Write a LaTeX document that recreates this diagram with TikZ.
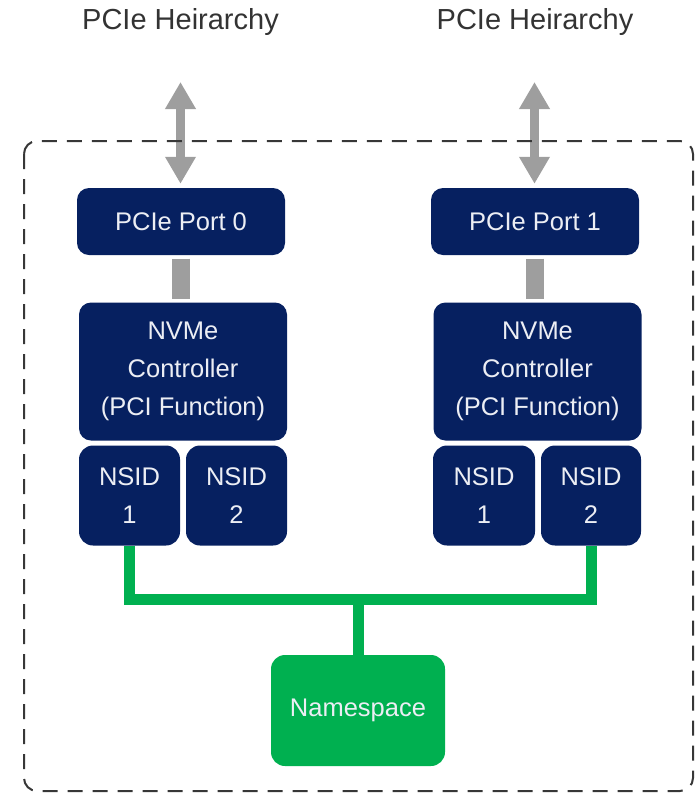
\documentclass[tikz,border=0pt]{standalone}
\usepackage{fontspec}
\setmainfont{Liberation Sans}
\usetikzlibrary{arrows.meta}
\definecolor{navy}{RGB}{6,32,96}
\definecolor{nsgreen}{RGB}{0,176,80}
\definecolor{linkgray}{RGB}{158,158,158}
\definecolor{framegray}{RGB}{55,55,55}
\definecolor{boxtext}{RGB}{236,238,244}
\begin{document}
\begin{tikzpicture}[x=1pt,y=-1pt,
  hosttitle/.style={text=black!80, font=\fontsize{29}{34}\selectfont},
  bluebox/.style={draw=none, fill=navy, rounded corners=12pt, inner sep=0pt,
    text=boxtext, align=center, font=\fontsize{25.5}{38}\selectfont},
  nsbox/.style={draw=none, fill=nsgreen, rounded corners=14pt, inner sep=0pt,
    text=boxtext, align=center, font=\fontsize{25.5}{38}\selectfont},
  pcielink/.style={draw=linkgray, line width=9pt,
    {Triangle[width=29pt,length=27pt]}-{Triangle[width=29pt,length=27pt]}},
  portbar/.style={draw=linkgray, line width=18pt, shorten <=3.5pt, shorten >=3.5pt},
  nsline/.style={draw=nsgreen, line width=11pt, line join=miter},
  subsystem/.style={draw=framegray, line width=2pt, dash pattern=on 15pt off 10pt,
    rounded corners=13pt}
]
\useasboundingbox (0,0) rectangle (694,793);

% host-side titles
\node[hosttitle] (t0) at (180.5,22) {PCIe Heirarchy};
\node[hosttitle] (t1) at (535,22) {PCIe Heirarchy};

% ports
\node[bluebox, minimum width=208pt, minimum height=67pt] (port0) at (181,221.5) {PCIe Port 0};
\node[bluebox, minimum width=208pt, minimum height=67pt] (port1) at (535,221.5) {PCIe Port 1};

% controllers
\node[bluebox, minimum width=208pt, minimum height=138pt] (ctrl0) at (183,371.5)
  {NVMe\\Controller\\(PCI Function)};
\node[bluebox, minimum width=208pt, minimum height=138pt] (ctrl1) at (537.5,371.5)
  {NVMe\\Controller\\(PCI Function)};

% namespace IDs
\node[bluebox, rounded corners=14pt, minimum width=101pt, minimum height=100pt] (n01) at (129.5,495.5) {NSID\\1};
\node[bluebox, rounded corners=14pt, minimum width=101pt, minimum height=100pt] (n02) at (236.5,495.5) {NSID\\2};
\node[bluebox, rounded corners=14pt, minimum width=102pt, minimum height=100pt] (n11) at (484,495.5) {NSID\\1};
\node[bluebox, rounded corners=14pt, minimum width=100pt, minimum height=100pt] (n12) at (591,495.5) {NSID\\2};

% shared namespace
\node[nsbox, minimum width=174pt, minimum height=111pt] (ns) at (358,710.5) {Namespace};

% links up to the PCIe hierarchy
\coordinate (up0) at (180.5,82);
\coordinate (up1) at (534.5,82);
\draw[pcielink, shorten >=4pt] (up0) -- (up0 |- port0.north);
\draw[pcielink, shorten >=4pt] (up1) -- (up1 |- port1.north);

% NVM subsystem boundary
\draw[subsystem] (24,141) rectangle (693,791);

% port to controller links
\draw[portbar] (port0.south) -- (port0.south |- ctrl0.north);
\draw[portbar] (port1.south) -- (port1.south |- ctrl1.north);

% both controllers attach the same namespace
\coordinate (bus) at (0,599);
\draw[nsline] (n01.south) -- (n01.south |- bus) -- (n12.south |- bus) -- (n12.south);
\draw[nsline] (ns.north) -- (ns.north |- bus);
\end{tikzpicture}
\end{document}
